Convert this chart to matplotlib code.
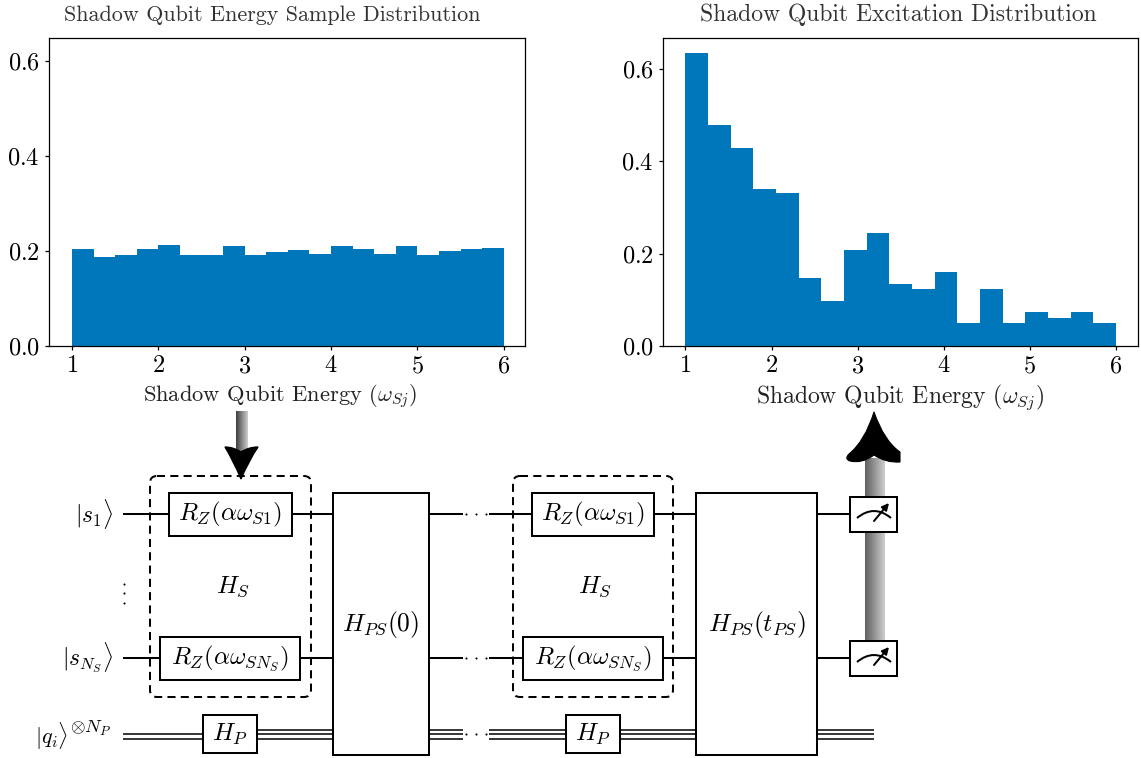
import numpy as np
import matplotlib
matplotlib.use("Agg")
import matplotlib.pyplot as plt
from matplotlib.patches import Rectangle, FancyBboxPatch, PathPatch
from matplotlib.path import Path

plt.rcParams['font.family'] = ['cmr10', 'DejaVu Serif']
plt.rcParams['mathtext.fontset'] = 'cm'
plt.rcParams['axes.formatter.use_mathtext'] = True

# values
sample_dist = [0.204, 0.187, 0.192, 0.204, 0.213, 0.192, 0.192, 0.211, 0.192, 0.198,
               0.202, 0.194, 0.211, 0.204, 0.194, 0.211, 0.192, 0.200, 0.204, 0.206]
excite_dist = [0.635, 0.478, 0.428, 0.341, 0.331, 0.147, 0.097, 0.207, 0.244, 0.134,
               0.123, 0.160, 0.050, 0.123, 0.050, 0.073, 0.060, 0.073, 0.050]
energy_range = (1, 6)
x_ticks = [1, 2, 3, 4, 5, 6]
y_ticks = [0.0, 0.2, 0.4, 0.6]
title_left = "Shadow Qubit Energy Sample Distribution"
title_right = "Shadow Qubit Excitation Distribution"
x_label = r"Shadow Qubit Energy $(\omega_{Sj})$"

W, H = 1141, 758
BAR_COL = "#0077bb"
LW = 1.45
FS = 18


def hist_panel(rect, values, ymax, xlim):
    ax = fig.add_axes(rect)
    edges = np.linspace(energy_range[0], energy_range[1], len(values) + 1)
    ax.bar(edges[:-1], values, width=np.diff(edges), align='edge', color=BAR_COL, linewidth=0)
    ax.set_xlim(*xlim)
    ax.set_ylim(0, ymax)
    ax.set_xticks(x_ticks)
    ax.set_yticks(y_ticks)
    ax.tick_params(labelsize=17.5, length=3.2, width=0.9, pad=3.5)
    for s in ax.spines.values():
        s.set_linewidth(0.9)
    return ax


def px_rect(x0, y0, x1, y1):
    return [x0 / W, 1 - y1 / H, (x1 - x0) / W, (y1 - y0) / H]


def wire(x0, x1, y):
    cv.plot([x0, x1], [y, y], color='k', lw=LW, solid_capstyle='butt', zorder=2)


def triple_wire(x0, x1, n=3):
    ys = [729.5, 734, 738.5] if n == 3 else [734, 738.5]
    for y in ys:
        cv.plot([x0, x1], [y, y], color='k', lw=1.1, solid_capstyle='butt', zorder=2)


def box(x0, y0, x1, y1, label=None, fs=FS):
    cv.add_patch(Rectangle((x0, y0), x1 - x0, y1 - y0, fc='white', ec='k', lw=LW, zorder=4))
    if label:
        cv.text((x0 + x1) / 2, (y0 + y1) / 2, label, fontsize=fs, ha='center', va='center', zorder=5)


def dashed_group(x0, y0, x1, y1):
    cv.add_patch(FancyBboxPatch((x0 + 6, y0 + 6), x1 - x0 - 12, y1 - y0 - 12,
                                boxstyle="round,pad=6,rounding_size=7", fc='none', ec='k',
                                lw=LW, ls=(0, (4, 2.6)), zorder=3))
    cv.text((x0 + x1) / 2 + 2.5, 587, r"$H_S$", fontsize=FS, ha='center', va='center', zorder=5)


def dots(x_list, y):
    cv.plot(x_list, [y] * len(x_list), ls='none', marker='o', ms=1.5, mew=0, color='k', zorder=2)


def meter(x0, y0):
    box(x0, y0, x0 + 47, y0 + 35)
    p = Path([(x0 + 7, y0 + 21), (x0 + 24, y0 + 7), (x0 + 41, y0 + 21)],
             [Path.MOVETO, Path.CURVE3, Path.CURVE3])
    cv.add_patch(PathPatch(p, fc='none', ec='k', lw=LW, zorder=5))
    cv.annotate("", xy=(x0 + 39, y0 + 6), xytext=(x0 + 24, y0 + 24), zorder=5,
                arrowprops=dict(arrowstyle='-|>', color='k', lw=LW, mutation_scale=10, shrinkA=0, shrinkB=0))


def gradient(x0, x1, y0, y1, lo, hi):
    g = np.linspace(lo, hi, 32).reshape(1, -1)
    cv.imshow(g, extent=(x0, x1, y1, y0), cmap='gray', vmin=0, vmax=1, aspect='auto', zorder=1)


fig = plt.figure(figsize=(W / 100, H / 100), dpi=100)

ax1 = hist_panel(px_rect(49, 38, 525, 346), sample_dist, 0.648, (0.732, 6.247))
ax2 = hist_panel(px_rect(663, 38, 1138, 346), excite_dist, 0.667, (0.74, 6.255))

# full figure layer in pixel units for the circuit
cv = fig.add_axes([0, 0, 1, 1], facecolor='none')
cv.axis('off')

gradient(236, 248, 411, 452, 0.25, 0.8)
gradient(865, 885, 458, 642, 0.38, 0.8)
cv.set_xlim(0, W)
cv.set_ylim(H, 0)

cv.text(272, 15, title_left, fontsize=15.9, color='#333333', ha='center', va='center')
cv.text(898, 15, title_right, fontsize=17, color='#333333', ha='center', va='center')
cv.text(280, 397, x_label, fontsize=16.2, color='#222222', ha='center', va='center')
cv.text(900, 397, x_label, fontsize=17, color='#222222', ha='center', va='center')

# arrow heads
head_down = Path([(241, 479), (233, 460), (225, 447), (233, 447), (241, 452), (249, 447), (258, 447),
                  (249, 460), (241, 479), (241, 479)],
                 [Path.MOVETO, Path.CURVE3, Path.CURVE3, Path.CURVE3, Path.CURVE3, Path.CURVE3, Path.CURVE3,
                  Path.CURVE3, Path.CURVE3, Path.CLOSEPOLY])
cv.add_patch(PathPatch(head_down, fc='k', ec='k', lw=1, zorder=6))
head_up = Path([(874, 412), (865, 441), (849, 454), (844, 459), (850, 461), (862, 464), (874, 455),
                (886, 463), (900, 462), (900, 452), (884, 441), (874, 412), (874, 412)],
               [Path.MOVETO, Path.CURVE3, Path.CURVE3, Path.CURVE3, Path.CURVE3, Path.CURVE3, Path.CURVE3,
                Path.CURVE3, Path.CURVE3, Path.LINETO, Path.CURVE3, Path.CURVE3, Path.CLOSEPOLY])
cv.add_patch(PathPatch(head_up, fc='k', ec='k', lw=0.8, joinstyle='round', zorder=6))

# wires
dot_x = [466, 476, 486]
for y in (514, 658):
    wire(123, 333, y)
    wire(429, 463, y)
    dots(dot_x, y)
    wire(489, 696, y)
    wire(817, 850, y)
triple_wire(123, 203, 2)
triple_wire(257, 333)
triple_wire(429, 463)
dots(dot_x, 734)
triple_wire(489, 566)
triple_wire(620, 696)
triple_wire(817, 874)

# first block
dashed_group(150, 476, 311, 697)
box(169, 493, 292, 536, r"$R_Z(\alpha\omega_{S1})$")
box(160, 637, 300, 680, r"$R_Z(\alpha\omega_{SN_S})$")
box(203, 715, 257, 753, r"$H_P$")
box(333, 493, 429, 755, r"$H_{PS}(0)$", 18.3)

# second block
dashed_group(513, 476, 673, 697)
box(532, 493, 654, 536, r"$R_Z(\alpha\omega_{S1})$")
box(523, 637, 663, 680, r"$R_Z(\alpha\omega_{SN_S})$")
box(566, 715, 620, 753, r"$H_P$")
box(696, 493, 817, 755, r"$H_{PS}(t_{PS})$", 18.3)

meter(850, 497)
meter(850, 641)

# qubit labels
cv.text(113, 514, r"$|s_1\rangle$", fontsize=17, ha='right', va='center')
cv.text(113, 658, r"$|s_{N_S}\rangle$", fontsize=17, ha='right', va='center')
cv.text(68, 736, r"$|q_i\rangle$", fontsize=16, ha='right', va='center')
cv.text(70, 728, r"$\otimes N_P$", fontsize=13.5, ha='left', va='center')
cv.plot([124, 124, 124], [584, 593, 603], ls='none', marker='o', ms=1.5, mew=0, color='k')

fig.savefig("out.png", dpi=100)
